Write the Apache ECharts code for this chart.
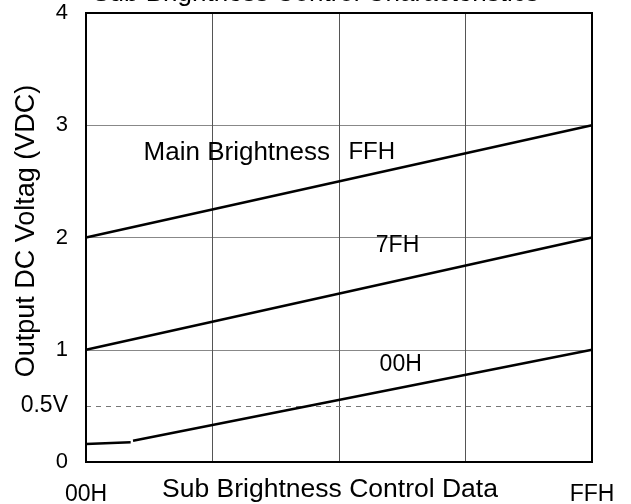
<!DOCTYPE html>
<html>
<head>
<meta charset="utf-8">
<script src="https://cdn.jsdelivr.net/npm/echarts@6/dist/echarts.min.js"></script>
<style>html,body{margin:0;padding:0;background:#fff;}#c{width:631px;height:504px;}</style>
</head>
<body>
<div id="c"></div>
<script>
// ---- data ----
const titleText = 'Sub Brightness Control Characteristics';
const xName = 'Sub Brightness Control Data';
const yName = 'Output DC Voltag (VDC)';
const xMin = 0, xMax = 255;           // 00H .. FFH
const xTickLabels = {0: '00H', 255: 'FFH'};
const yMin = 0, yMax = 4;
const refLevel = 0.5;
const refLabel = '0.5V';
const curveFFH = [[0, 2.0], [255, 3.0]];
const curve7FH = [[0, 1.0], [255, 2.0]];
const curve00H_start = [[0, 0.16], [22.5, 0.175]];
const curve00H = [[23.7, 0.19], [255, 1.0]];
const annotationNames = ['Main Brightness', 'FFH', '7FH', '00H'];
const annotationX = [76, 144, 157, 158.6];
const annotationY = [2.757, 2.757, 1.924, 0.864];
const annotationSize = [26, 24, 23, 23];

const font = '"Liberation Sans", Arial, sans-serif';
const chart = echarts.init(document.getElementById('c'), null, {renderer: 'canvas'});

const lineStyle = {color: '#000', width: 2.5};
function lineSeries(data) {
  return {type: 'line', data: data, symbol: 'none', silent: true, lineStyle: lineStyle, z: 5};
}

const option = {
  animation: false,
  backgroundColor: '#fff',
  textStyle: {fontFamily: font, color: '#000'},
  graphic: [{
    type: 'text', left: 'center', top: -19,
    style: {text: titleText, font: '26px ' + font, fill: '#000', x: -14}
  }],
  grid: {left: 86, right: 39, top: 13, bottom: 42, show: true, borderColor: '#000', borderWidth: 2, z: 10,
    containLabel: false, outerBoundsMode: 'none'},
  xAxis: {
    type: 'value', min: xMin, max: xMax, interval: (xMax - xMin) / 4,
    name: xName, nameLocation: 'middle', nameGap: 14, nameMoveOverlap: false,
    nameTextStyle: {fontSize: 26.5, color: '#000', fontFamily: font, padding: [0, 18, 0, 0]},
    axisLine: {show: true, lineStyle: {color: '#000', width: 2}},
    axisTick: {show: false},
    axisLabel: {fontSize: 23, color: '#000', fontFamily: font, margin: 21,
      formatter: v => xTickLabels[v] !== undefined ? xTickLabels[v] : ''},
    splitLine: {show: true, lineStyle: {color: '#555', width: 1}}
  },
  yAxis: {
    type: 'value', min: yMin, max: yMax, interval: 1,
    name: yName, nameLocation: 'middle', nameGap: 46, nameMoveOverlap: false,
    nameTextStyle: {fontSize: 27, color: '#000', fontFamily: font, padding: [0, 0, 0, 13]},
    axisLine: {show: true, lineStyle: {color: '#000', width: 2}},
    axisTick: {show: false},
    axisLabel: {fontSize: 22, color: '#000', fontFamily: font, margin: 18},
    splitLine: {show: true, lineStyle: {color: '#888', width: 1}}
  },
  series: [
    lineSeries(curveFFH),
    lineSeries(curve7FH),
    lineSeries(curve00H_start),
    Object.assign(lineSeries(curve00H), {
      markLine: {
        silent: true, symbol: 'none',
        lineStyle: {color: '#777', type: [5, 5], width: 1},
        label: {show: true, position: 'start', formatter: refLabel, distance: 18,
          fontSize: 23, color: '#000', fontFamily: font},
        data: [{yAxis: refLevel}]
      }
    }),
    {
      type: 'scatter', symbolSize: 0, silent: true, z: 6,
      itemStyle: {color: '#000', opacity: 1},
      data: annotationNames.map((n, i) => ({
        value: [annotationX[i], annotationY[i], n],
        label: {fontSize: annotationSize[i]}
      })),
      label: {show: true, position: 'inside', formatter: p => p.value[2],
        color: '#000', fontFamily: font, textBorderWidth: 0, textBorderColor: 'transparent'}
    }
  ]
};
chart.setOption(option);
</script>
</body>
</html>
